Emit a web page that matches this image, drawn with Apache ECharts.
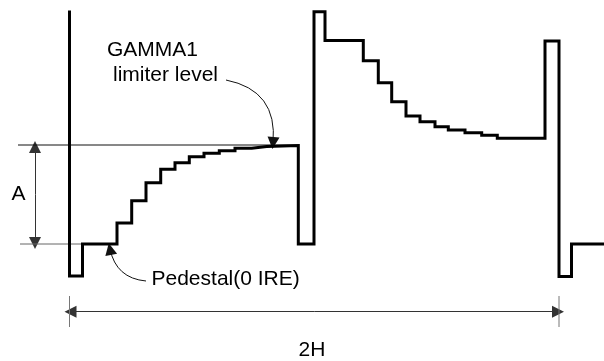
<!DOCTYPE html>
<html>
<head>
<meta charset="utf-8">
<script src="https://cdn.jsdelivr.net/npm/echarts@6/dist/echarts.min.js"></script>
<style>html,body{margin:0;padding:0;background:#fff;}#c{width:604px;height:361px;}</style>
</head>
<body>
<div id="c"></div>
<script>
// Waveform: each point = time where a level starts, and that level (units above pedestal)
var stepTimes  = [0, 0, 13, 47.5, 62.2, 76.5, 91.2, 105.5, 119.8, 134.5, 149.8, 165.5, 182.2, 197.2,
                  228.8, 244.5, 255.5, 293.8, 308.8, 322.2, 336.5, 350.5, 365.5, 378.8, 395.5, 412.2, 427.8,
                  475.5, 489.5, 502, 534.5];
var stepLevels = [232, -32, 0, 21, 43.3, 61.3, 74.7, 81.3, 87.3, 90.7, 93.3, 95.7, 97.5, 98.5,
                  0, 232.3, 203.5, 183.3, 161.3, 142.3, 128, 122.3, 117.3, 114, 111.3, 108.7, 105.7,
                  203, -32.5, 0, 0];
var limiterLevel = 99;
var pedestalLevel = 0;
var periodStart = 0, periodEnd = 489.5;   // 2H span
var spanLevel = -67.7;
var labels = ['GAMMA1', 'limiter level', 'Pedestal(0 IRE)', 'A', '2H'];

var wave = stepTimes.map(function (t, i) { return [t, stepLevels[i]]; });
var aMid = (limiterLevel + pedestalLevel) / 2;
var hMid = (periodStart + periodEnd) / 2;

var chart = echarts.init(document.getElementById('c'), null, {renderer: 'canvas'});
var FONT = '"Liberation Sans", Arial, sans-serif';
var option = {
  animation: false,
  grid: {left: 0, right: 0, top: 0, bottom: 0},
  xAxis: {type: 'value', min: -69.5, max: 534.5, show: false},
  yAxis: {type: 'value', min: -117, max: 244, show: false},
  series: [
    // reference lines
    {type: 'line', symbol: 'none', silent: true, lineStyle: {color: '#111', width: 1},
     data: [[-51.5, limiterLevel], [228.8, limiterLevel]]},
    {type: 'line', symbol: 'none', silent: true, lineStyle: {color: '#666', width: 1},
     data: [[-49.5, pedestalLevel], [13, pedestalLevel]]},
    // 2H ticks
    {type: 'line', symbol: 'none', silent: true, lineStyle: {color: '#777', width: 1},
     data: [[periodStart, -52], [periodStart, -83]]},
    {type: 'line', symbol: 'none', silent: true, lineStyle: {color: '#777', width: 1},
     data: [[periodEnd, -52], [periodEnd, -83]]},
    // waveform
    {type: 'line', step: 'end', symbol: 'none', silent: true,
     lineStyle: {color: '#000', width: 3, join: 'miter', cap: 'square'}, data: wave},
    // dimension arrows (each drawn as two halves from the middle outwards)
    {type: 'lines', coordinateSystem: 'cartesian2d', silent: true,
     symbol: ['none', 'triangle'], symbolSize: [5, 12],
     lineStyle: {color: '#333', width: 1, opacity: 1, curveness: 0},
     data: [
       {coords: [[-34.5, aMid], [-34.5, limiterLevel - 2]]},
       {coords: [[-34.5, aMid], [-34.5, pedestalLevel + 1]]},
       {coords: [[hMid, spanLevel], [periodEnd - 1, spanLevel]]},
       {coords: [[hMid, spanLevel], [periodStart + 1, spanLevel]]}
     ]},
    // curved pointer arrows
    {type: 'lines', coordinateSystem: 'cartesian2d', silent: true,
     symbol: ['none', 'triangle'], symbolSize: [6, 12],
     lineStyle: {color: '#111', width: 1, opacity: 1, curveness: 0.45},
     data: [
       {coords: [[156.5, 164], [203.5, 101]]}
     ]},
    {type: 'lines', coordinateSystem: 'cartesian2d', silent: true,
     symbol: ['none', 'triangle'], symbolSize: [6, 12],
     lineStyle: {color: '#111', width: 1, opacity: 1, curveness: 0.37},
     data: [
       {coords: [[76.5, -37], [40.5, -5]]}
     ]}
  ],
  graphic: [
    {type: 'text', x: 107, y: 50, style: {text: labels[0], font: '21px ' + FONT, fill: '#000', verticalAlign: 'middle', align: 'left'}},
    {type: 'text', x: 113, y: 75.5, style: {text: labels[1], font: '21px ' + FONT, fill: '#000', verticalAlign: 'middle', align: 'left'}},
    {type: 'text', x: 151.5, y: 279, style: {text: labels[2], font: '21px ' + FONT, fill: '#000', verticalAlign: 'middle', align: 'left'}},
    {type: 'text', x: 11.5, y: 194, style: {text: labels[3], font: '21px ' + FONT, fill: '#000', verticalAlign: 'middle', align: 'left'}},
    {type: 'text', x: 312, y: 350, style: {text: labels[4], font: '21px ' + FONT, fill: '#000', verticalAlign: 'middle', align: 'center'}}
  ]
};
chart.setOption(option);
</script>
</body>
</html>
